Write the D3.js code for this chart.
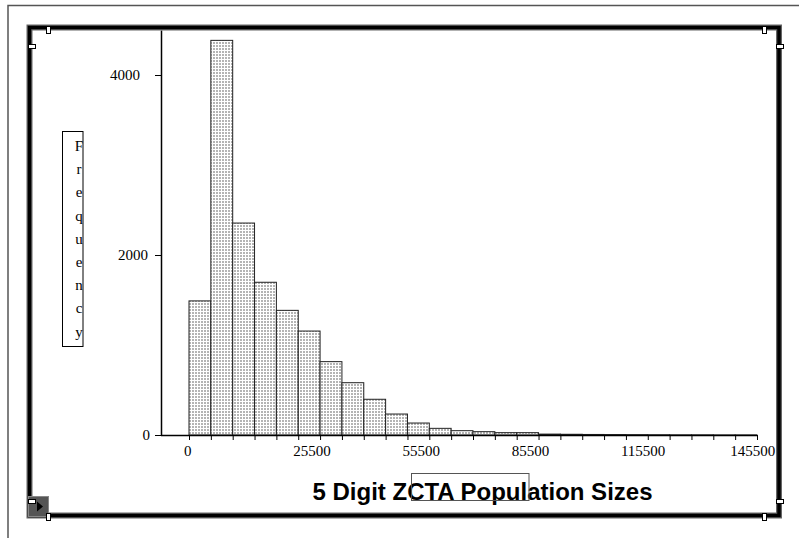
<!DOCTYPE html>
<html>
<head>
<meta charset="utf-8">
<script src="https://cdn.jsdelivr.net/npm/d3@7"></script>
<style>
  body { margin: 0; background: #fff; }
  svg { display: block; }
  .tick text { font-family: "Liberation Serif", "Times New Roman", serif; font-size: 15px; fill: #000; }
</style>
</head>
<body>
<div id="figure_area"></div>
<script>
// ----- ----- ----- ----- ----- ----- ----- ----- -----
// DATA
var binStart = -4500;
var binWidth = 6000;
var counts = [1490, 4385, 2355, 1697, 1385, 1155, 815, 581, 397, 233, 133, 74, 48,
    37, 26, 26, 10, 8, 6, 5, 4, 3, 2, 2, 1, 1];
var yTicks = [0, 2000, 4000];
var xLabelAt = [-4500, 25500, 55500, 85500, 115500, 145500];
var xTickLabels = ["0", "25500", "55500", "85500", "115500", "145500"];
var yTitle = "Frequency";
var xTitle = "5 Digit ZCTA Population Sizes";

var bins = counts.map(function (c, i) {
    return { x0: binStart + i * binWidth, x1: binStart + (i + 1) * binWidth, n: c };
});
var binEdges = bins.map(function (b) { return b.x0; }).concat([bins[bins.length - 1].x1]);

// ----- ----- ----- ----- ----- ----- ----- ----- -----
// FIGURE
const figure_size = { width: 799, height: 538 };
const plot = { left: 161, x0: 189, x1: 757, top: 30, bottom: 435 };
const serif = '"Liberation Serif", "Times New Roman", serif';

var svg = d3.select("#figure_area")
    .append("svg")
    .attr("width", figure_size.width)
    .attr("height", figure_size.height);

// fill pattern of the bars
var pat = svg.append("defs").append("pattern")
    .attr("id", "grid")
    .attr("patternUnits", "userSpaceOnUse")
    .attr("width", 3)
    .attr("height", 3);
pat.append("rect").attr("width", 3).attr("height", 3).attr("fill", "#fff");
pat.append("rect").attr("width", 2).attr("height", 2).attr("fill", "#b4b4b4");

// page edge lines
svg.append("path")
    .attr("d", "M8,538 L8,5.5 L799,5.5")
    .attr("fill", "none")
    .attr("stroke", "#555")
    .attr("stroke-width", 1.5);

// scales
var x_scale = d3.scaleLinear()
    .domain([binEdges[0], binEdges[binEdges.length - 1]])
    .range([plot.x0, plot.x1]);

var y_scale = d3.scaleLinear()
    .domain([0, 4500])
    .range([plot.bottom, plot.top]);

// bars
svg.append("g")
    .selectAll("rect")
    .data(bins)
    .join("rect")
    .attr("x", function (d) { return x_scale(d.x0); })
    .attr("y", function (d) { return y_scale(d.n); })
    .attr("width", function (d) { return x_scale(d.x1) - x_scale(d.x0); })
    .attr("height", function (d) { return y_scale(0) - y_scale(d.n); })
    .attr("fill", "url(#grid)")
    .attr("stroke", "#222")
    .attr("stroke-width", 1);

// X axis: ticks on each bin edge
var x_axis = d3.axisBottom(x_scale)
    .tickValues(binEdges)
    .tickFormat("")
    .tickSize(5)
    .tickSizeOuter(0);
var gx = svg.append("g")
    .attr("transform", "translate(0," + plot.bottom + ")")
    .call(x_axis);
gx.select(".domain").remove();
gx.selectAll(".tick line").attr("stroke", "#000");
svg.append("line")
    .attr("x1", plot.left)
    .attr("x2", plot.x1)
    .attr("y1", plot.bottom + 0.5)
    .attr("y2", plot.bottom + 0.5)
    .attr("stroke", "#000")
    .attr("stroke-width", 1.5);

// X labels
svg.append("g")
    .selectAll("text")
    .data(xTickLabels)
    .join("text")
    .attr("x", function (d, i) { return x_scale(xLabelAt[i]) - 5; })
    .attr("y", 456)
    .attr("text-anchor", "start")
    .style("font-family", serif)
    .style("font-size", "15px")
    .text(function (d) { return d; });

// Y axis
var y_axis = d3.axisLeft(y_scale)
    .tickValues(yTicks)
    .tickFormat(d3.format("d"))
    .tickSize(6)
    .tickSizeOuter(0)
    .tickPadding(7);
var gy = svg.append("g")
    .attr("transform", "translate(" + plot.left + ",0)")
    .call(y_axis);
gy.select(".domain").attr("stroke", "#000").attr("stroke-width", 1.5);
gy.selectAll(".tick line").attr("stroke", "#000");
gy.selectAll(".tick text").attr("dx", function (d) { return d === 4000 ? -8 : (d === 0 ? 2 : 0); });

// Y title box, letters stacked
svg.append("rect")
    .attr("x", 62.5)
    .attr("y", 131.5)
    .attr("width", 20.5)
    .attr("height", 215)
    .attr("fill", "none")
    .attr("stroke", "#000")
    .attr("stroke-width", 1);
svg.append("g")
    .selectAll("text")
    .data(yTitle.split(""))
    .join("text")
    .attr("x", 79)
    .attr("y", function (d, i) { return 151 + i * 23.2; })
    .attr("text-anchor", "middle")
    .style("font-family", serif)
    .style("font-size", "15px")
    .text(function (d) { return d; });

// X title and its box
svg.append("text")
    .attr("x", 482.5)
    .attr("y", 500)
    .attr("text-anchor", "middle")
    .style("font-family", '"Liberation Sans", Arial, sans-serif')
    .style("font-weight", "bold")
    .style("font-size", "24px")
    .text(xTitle);
svg.append("rect")
    .attr("x", 411.5)
    .attr("y", 473.5)
    .attr("width", 117.5)
    .attr("height", 27)
    .attr("fill", "none")
    .attr("stroke", "#555")
    .attr("stroke-width", 1);

// ----- ----- ----- ----- ----- ----- ----- ----- -----
// FRAME
svg.append("rect")
    .attr("x", 29.5)
    .attr("y", 27.5)
    .attr("width", 749.5)
    .attr("height", 488)
    .attr("fill", "none")
    .attr("stroke", "#666")
    .attr("stroke-width", 6);
svg.append("rect")
    .attr("x", 29.5)
    .attr("y", 27.5)
    .attr("width", 749.5)
    .attr("height", 488)
    .attr("fill", "none")
    .attr("stroke", "#000")
    .attr("stroke-width", 3.5);

// corner icon
svg.append("rect")
    .attr("x", 28.5)
    .attr("y", 496.5)
    .attr("width", 20)
    .attr("height", 20)
    .attr("fill", "#555")
    .attr("stroke", "#888")
    .attr("stroke-width", 1);
svg.append("path")
    .attr("d", "M37,501.5 L43,506.5 L37,511.5 Z")
    .attr("fill", "#000");

// handles
var handles = [
    [46, 26, 4, 7], [28, 44, 7, 4], [762, 26, 4, 7], [776, 44, 7, 4],
    [776, 499, 7, 4], [762, 513, 4, 7], [28, 499, 7, 4], [46, 513, 4, 7]
];
svg.append("g")
    .selectAll("rect")
    .data(handles)
    .join("rect")
    .attr("x", function (d) { return d[0] + 0.5; })
    .attr("y", function (d) { return d[1] + 0.5; })
    .attr("width", function (d) { return d[2]; })
    .attr("height", function (d) { return d[3]; })
    .attr("fill", "#fff")
    .attr("stroke", "#000")
    .attr("stroke-width", 1);
</script>
</body>
</html>
